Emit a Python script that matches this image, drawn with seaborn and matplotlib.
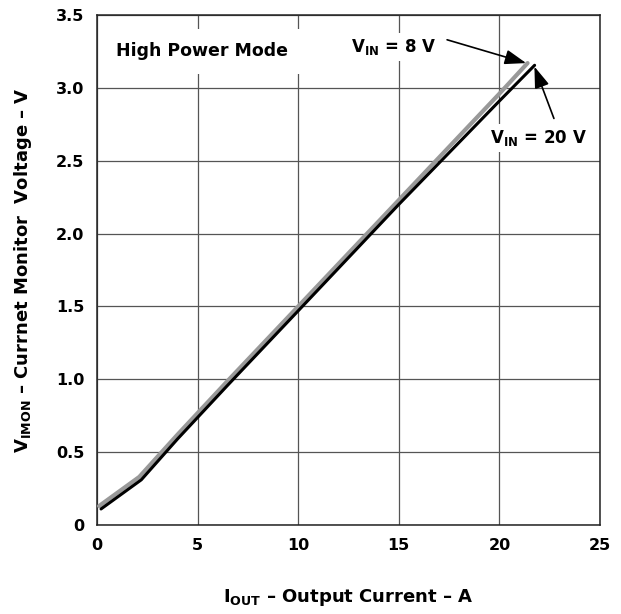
import matplotlib
matplotlib.use("Agg")
import matplotlib.pyplot as plt
import seaborn as sns
import pandas as pd

# I_OUT (A) vs V_IMON (V)
iout_8v = [0.1, 2.1, 4.0, 6.5, 10.0, 15.0, 20.0, 21.4]
vimon_8v = [0.13, 0.33, 0.62, 0.99, 1.50, 2.23, 2.96, 3.17]
iout_20v = [0.2, 2.2, 4.0, 6.5, 10.0, 15.0, 20.0, 21.75]
vimon_20v = [0.11, 0.31, 0.59, 0.96, 1.47, 2.20, 2.91, 3.155]

xticks = [0, 5, 10, 15, 20, 25]
xticklabels = ["0", "5", "10", "15", "20", "25"]
yticks = [0, 0.5, 1.0, 1.5, 2.0, 2.5, 3.0, 3.5]
yticklabels = ["0", "0.5", "1.0", "1.5", "2.0", "2.5", "3.0", "3.5"]

sns.set_style("white")
plt.rcParams["font.family"] = ["DejaVu Sans"]
plt.rcParams["font.weight"] = "bold"
plt.rcParams["text.color"] = "black"
plt.rcParams["axes.labelcolor"] = "black"
plt.rcParams["xtick.color"] = "black"
plt.rcParams["ytick.color"] = "black"
plt.rcParams["mathtext.fontset"] = "custom"
plt.rcParams["mathtext.rm"] = "DejaVu Sans:bold"
plt.rcParams["mathtext.bf"] = "DejaVu Sans:bold"

df8 = pd.DataFrame({"iout": iout_8v, "vimon": vimon_8v})
df20 = pd.DataFrame({"iout": iout_20v, "vimon": vimon_20v})

fig = plt.figure(figsize=(6.21, 6.14), dpi=100)
ax = fig.add_axes([97 / 621, 89 / 614, 503 / 621, 510 / 614])

sns.lineplot(data=df8, x="iout", y="vimon", color="#999999", lw=3.0, sort=False, ax=ax, zorder=3)
sns.lineplot(data=df20, x="iout", y="vimon", color="black", lw=2.2, sort=False, ax=ax, zorder=4)

ax.set_xlim(0, 25)
ax.set_ylim(0, 3.5)
ax.set_xticks(xticks)
ax.set_xticklabels(xticklabels, fontsize=11.5, fontweight="bold")
ax.set_yticks(yticks)
ax.set_yticklabels(yticklabels, fontsize=11.5, fontweight="bold")
ax.tick_params(axis="both", length=0)
ax.tick_params(axis="x", pad=9)
ax.tick_params(axis="y", pad=9)
ax.grid(True, color="#555555", lw=0.9)
for s in ax.spines.values():
    s.set_color("#222222")
    s.set_linewidth(1.1)

ax.set_xlabel(r"I$_{\mathrm{OUT}}$ – Output Current – A", fontsize=13, fontweight="bold", labelpad=25)
ax.set_ylabel(r"V$_{\mathrm{IMON}}$ – Currnet Monitor  Voltage – V", fontsize=13, fontweight="bold", labelpad=16)

ax.text(5.2, 3.25, "High Power Mode", fontsize=12.5, fontweight="bold", ha="center", va="center",
        bbox=dict(facecolor="white", edgecolor="none", pad=10), zorder=5)

ax.text(14.75, 3.28, r"V$_{\mathrm{IN}}$ = 8 V", fontsize=12, fontweight="bold", ha="center", va="center",
        bbox=dict(facecolor="white", edgecolor="none", pad=3), zorder=5)
ax.text(21.95, 2.655, r"V$_{\mathrm{IN}}$ = 20 V", fontsize=12, fontweight="bold", ha="center", va="center",
        bbox=dict(facecolor="white", edgecolor="none", pad=3), zorder=5)

arrow = dict(arrowstyle="-|>,head_length=1.3,head_width=0.45", color="black", lw=1.2,
             shrinkA=0, shrinkB=0)
ax.annotate("", xy=(21.33, 3.17), xytext=(17.4, 3.33), arrowprops=arrow, zorder=6)
ax.annotate("", xy=(21.74, 3.146), xytext=(22.71, 2.79), arrowprops=arrow, zorder=6)

fig.savefig("out.png", dpi=100)
